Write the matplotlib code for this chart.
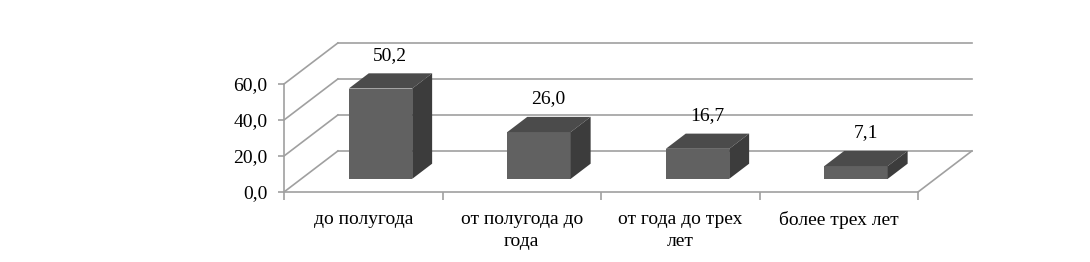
import numpy as np
import matplotlib
matplotlib.use('Agg')
import matplotlib.pyplot as plt
from matplotlib.patches import Polygon

categories = ['до полугода', 'от полугода до\nгода', 'от года до трех\nлет', 'более трех лет']
values = [50.2, 26.0, 16.7, 7.1]
value_labels = ['50,2', '26,0', '16,7', '7,1']
yticks = [0, 20, 40, 60]
ytick_labels = ['0,0', '20,0', '40,0', '60,0']

# pseudo-3d geometry (category units / value units)
DX, DY = 0.34, 22.8     # full depth of the box
FRONT, DEPTH = 0.32, 0.37  # bar position inside the depth
BAR_W = 0.40
GRID = '#a0a0a0'
C_FRONT, C_TOP, C_SIDE = '#616161', '#4b4b4b', '#3c3c3c'
FS = 14

plt.rcParams['font.family'] = ['Liberation Serif', 'DejaVu Serif']

fig = plt.figure(figsize=(10.9, 2.62), dpi=100)
ax = fig.add_axes([284 / 1090, 70 / 262, 634 / 1090, 108 / 262])
ax.set_xlim(0, len(categories))
ax.set_ylim(0, 60)
ax.patch.set_visible(False)

# back wall gridlines, side wall diagonals
n = len(categories)
for v in yticks:
    ax.plot([DX, n + DX], [v + DY, v + DY], color=GRID, lw=1.2, clip_on=False, zorder=1)
    ax.plot([0, DX], [v, v + DY], color=GRID, lw=1.2, clip_on=False, zorder=1)
# floor right edge
ax.plot([n, n + DX], [0, DY], color=GRID, lw=1.2, clip_on=False, zorder=1)

# bars
x = np.arange(n) + 0.5
fx = x + FRONT * DX
base = FRONT * DY
ax.bar(fx, values, width=BAR_W, bottom=base, color=C_FRONT, clip_on=False, zorder=3)
ddx, ddy = DEPTH * DX, DEPTH * DY
for xi, v, lab in zip(fx, values, value_labels):
    l, r = xi - BAR_W / 2, xi + BAR_W / 2
    top = base + v
    ax.add_patch(Polygon([(l, top), (r, top), (r + ddx, top + ddy), (l + ddx, top + ddy)],
                         closed=True, facecolor=C_TOP, edgecolor='none', clip_on=False, zorder=3))
    ax.add_patch(Polygon([(r, base), (r, top), (r + ddx, top + ddy), (r + ddx, base + ddy)],
                         closed=True, facecolor=C_SIDE, edgecolor='none', clip_on=False, zorder=3))
    ax.text(xi + 0.06, top + ddy + 10, lab, ha='center', va='center', fontsize=FS, zorder=4)

# axes
for s in ['top', 'right']:
    ax.spines[s].set_visible(False)
for s in ['left', 'bottom']:
    ax.spines[s].set_color(GRID)
    ax.spines[s].set_linewidth(1.2)
ax.set_yticks(yticks)
ax.set_yticklabels(ytick_labels, fontsize=FS)
ax.tick_params(axis='y', length=4, width=1.2, color=GRID, pad=8)
ax.set_xticks(np.arange(n + 1))
ax.set_xticklabels([])
ax.tick_params(axis='x', which='major', length=6, width=1.2, color=GRID, direction='out')
ax.set_xticks(x, minor=True)
ax.set_xticklabels(categories, minor=True, fontsize=FS, linespacing=1.35)
ax.tick_params(axis='x', which='minor', length=0, pad=14)

fig.savefig('out.png', dpi=100)
